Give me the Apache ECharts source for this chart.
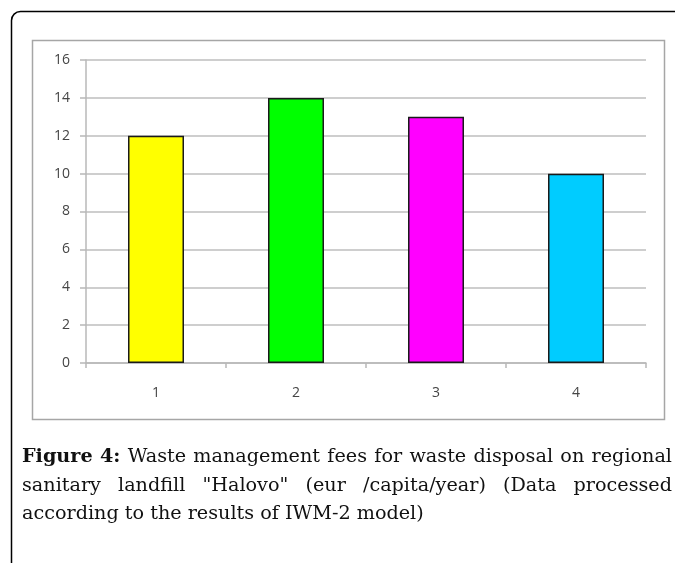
<!DOCTYPE html>
<html>
<head>
<meta charset="utf-8">
<script src="https://cdn.jsdelivr.net/npm/echarts@6/dist/echarts.min.js"></script>
<style>html,body{margin:0;padding:0;background:#fff}#c{width:675px;height:563px}</style>
</head>
<body>
<div id="c"></div>
<script>
var categories = ['1', '2', '3', '4'];
var values = [12, 14, 13, 10];
var barColors = ['#FFFF00', '#00FF00', '#FF00FF', '#00CCFF'];
var yTicks = [0, 2, 4, 6, 8, 10, 12, 14, 16];
var captionBold = 'Figure 4:';
var captionText = 'Waste management fees for waste disposal on regional sanitary landfill "Halovo" (eur /capita/year) (Data processed according to the results of IWM-2 model)';

var chart = echarts.init(document.getElementById('c'), null, {renderer: 'canvas'});

// caption layout (justified)
var capFont = 'DejaVu Serif';
var capSize = 19.2;
var capLeft = 22, capRight = 672;
var lineY = [457, 486, 514];
var ctx = document.createElement('canvas').getContext('2d');
function measure(t, bold) {
  ctx.font = (bold ? 'bold ' : '') + capSize + 'px "' + capFont + '"';
  return ctx.measureText(t).width;
}
var words = captionBold.split(' ').map(function (w) { return {t: w, b: true}; }).concat(
  captionText.split(' ').map(function (w) { return {t: w, b: false}; }));
var lines = [], cur = [], curW = 0, spaceW = measure(' ', false), maxW = capRight - capLeft;
words.forEach(function (w) {
  var ww = measure(w.t, w.b);
  w.w = ww;
  var add = cur.length ? spaceW + ww : ww;
  if (curW + add > maxW && cur.length) {
    lines.push(cur); cur = [w]; curW = ww;
  } else { cur.push(w); curW += add; }
});
if (cur.length) lines.push(cur);
var capEls = [];
lines.forEach(function (ln, li) {
  var sum = ln.reduce(function (s, w) { return s + w.w; }, 0);
  var last = li === lines.length - 1;
  var gap = (!last && ln.length > 1) ? (maxW - sum) / (ln.length - 1) : spaceW;
  var x = capLeft;
  ln.forEach(function (w) {
    capEls.push({
      type: 'text', x: x, y: lineY[li] || (lineY[0] + li * 29), silent: true,
      style: {text: w.t, font: (w.b ? 'bold ' : '') + capSize + 'px "' + capFont + '"',
        fill: '#111', verticalAlign: 'middle'}
    });
    x += w.w + gap;
  });
});

var option = {
  backgroundColor: '#fff',
  animation: false,
  grid: {left: 86, right: 29, top: 60, bottom: 200, containLabel: false},
  xAxis: {
    type: 'category',
    data: categories,
    axisLine: {show: true, lineStyle: {color: '#B8B8B8', width: 1.5}},
    axisTick: {show: true, length: 5, alignWithLabel: false, lineStyle: {color: '#B8B8B8', width: 1.5}},
    axisLabel: {margin: 23, color: '#454545', fontSize: 14, fontFamily: 'Open Sans'},
    splitLine: {show: false}
  },
  yAxis: {
    type: 'value',
    min: 0, max: 16, interval: 2,
    axisLine: {show: true, lineStyle: {color: '#B8B8B8', width: 1.5}},
    axisTick: {show: true, length: 6, lineStyle: {color: '#B8B8B8', width: 1.5}},
    axisLabel: {margin: 16, color: '#454545', fontSize: 14, fontFamily: 'Open Sans'},
    splitLine: {show: true, lineStyle: {color: '#BEBEBE', width: 1.5}}
  },
  series: [{
    type: 'bar',
    barWidth: '40%',
    data: values.map(function (v, i) {
      return {value: v, itemStyle: {color: barColors[i]}};
    }),
    itemStyle: {borderColor: '#1a1a1a', borderWidth: 1.5}
  }],
  graphic: [
    {type: 'rect', z: -10, silent: true,
     shape: {x: 11.5, y: 11.5, width: 720, height: 620, r: 9},
     style: {fill: null, stroke: '#000', lineWidth: 1.5}},
    {type: 'rect', z: -9, silent: true,
     shape: {x: 32.5, y: 40.5, width: 632, height: 379},
     style: {fill: null, stroke: '#A6A6A6', lineWidth: 1.5}}
  ].concat(capEls)
};
chart.setOption(option);
</script>
</body>
</html>
